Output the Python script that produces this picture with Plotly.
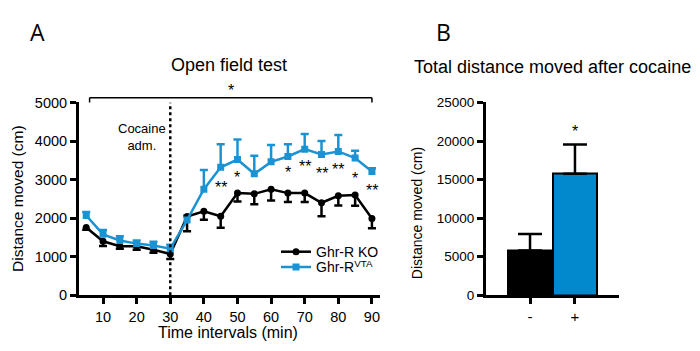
import plotly.graph_objects as go

# ---- Data ----
time_min = [5, 10, 15, 20, 25, 30, 35, 40, 45, 50, 55, 60, 65, 70, 75, 80, 85, 90]
ko_mean = [1760, 1400, 1270, 1270, 1180, 1070, 2040, 2180, 2050, 2650, 2630, 2750, 2650, 2650, 2400, 2580, 2600, 1990]
ko_sem = [60, 120, 60, 90, 80, 130, 380, 220, 300, 220, 270, 290, 230, 230, 350, 250, 280, 250]
vta_mean = [2070, 1580, 1420, 1340, 1290, 1210, 1950, 2750, 3320, 3520, 3150, 3460, 3600, 3790, 3650, 3730, 3560, 3210]
vta_sem = [90, 110, 110, 80, 100, 100, 120, 500, 600, 520, 470, 440, 320, 390, 350, 430, 190, 85]

star_x = [45, 50, 65, 70, 75, 80, 85, 90]
star_y = [2900, 3160, 3285, 3450, 3260, 3370, 3145, 2815]
star_txt = ["**", "*", "*", "**", "**", "**", "*", "**"]

bar_cats = ["-", "+"]
bar_vals = [5800, 15760]
bar_sem = [2160, 3800]

x_ticks_a = [10, 20, 30, 40, 50, 60, 70, 80, 90]
y_ticks_a = [0, 1000, 2000, 3000, 4000, 5000]
y_ticks_b = [0, 5000, 10000, 15000, 20000, 25000]

BLUE = "#1b93d3"
BAR_BLUE = "#0288cc"
FONT = "Liberation Sans, Arial, sans-serif"

W, H = 700, 351
def px(x):
    return x / W
def py(y):
    return 1 - y / H

CAP = 1.2  # half cap width in minutes

def err_segments(xs, ys, es, sign):
    sx, sy = [], []
    for x, y, e in zip(xs, ys, es):
        end = y + sign * e
        sx += [x, x, None, x - CAP, x + CAP, None]
        sy += [y, end, None, end, end, None]
    return sx, sy

fig = go.Figure()

# error bars (KO down, VTA up)
ex, ey = err_segments(time_min, ko_mean, ko_sem, -1)
fig.add_trace(go.Scatter(x=ex, y=ey, mode="lines", line=dict(color="black", width=2.5),
                         showlegend=False, hoverinfo="skip", xaxis="x", yaxis="y"))
ex, ey = err_segments(time_min, vta_mean, vta_sem, 1)
fig.add_trace(go.Scatter(x=ex, y=ey, mode="lines", line=dict(color=BLUE, width=2.5),
                         showlegend=False, hoverinfo="skip", xaxis="x", yaxis="y"))

fig.add_trace(go.Scatter(x=time_min, y=ko_mean, mode="lines+markers", name="Ghr-R KO",
                         line=dict(color="black", width=2.5),
                         marker=dict(symbol="circle", size=7, color="black"),
                         xaxis="x", yaxis="y", legend="legend"))
fig.add_trace(go.Scatter(x=time_min, y=vta_mean, mode="lines+markers", name="Ghr-R<sup>VTA</sup>",
                         line=dict(color=BLUE, width=2.5),
                         marker=dict(symbol="square", size=7, color=BLUE),
                         xaxis="x", yaxis="y", legend="legend2"))

# Panel B bars
fig.add_trace(go.Bar(x=bar_cats, y=bar_vals, width=1.0,
                     marker=dict(color=["black", BAR_BLUE], line=dict(color="black", width=2)),
                     error_y=dict(type="data", array=bar_sem, arrayminus=[0, 0], symmetric=False,
                                  color="black", thickness=2.5, width=12),
                     showlegend=False, xaxis="x2", yaxis="y2"))

ydom = [py(301), py(99)]
axis_common = dict(showline=True, linecolor="black", linewidth=3, ticks="outside",
                   ticklen=6, tickwidth=2.5, tickcolor="black", showgrid=False, zeroline=False)
leg_common = dict(xanchor="left", yanchor="top", bgcolor="rgba(0,0,0,0)",
                  font=dict(family=FONT, size=14, color="black"), itemwidth=30)

fig.update_layout(
    width=W, height=H, margin=dict(l=0, r=0, t=0, b=0),
    paper_bgcolor="white", plot_bgcolor="white",
    font=dict(family=FONT, color="black"),
    xaxis=dict(domain=[px(79), px(380)], range=[2.85, 92.4], tickvals=x_ticks_a, anchor="y",
               tickfont=dict(family=FONT, size=14.5, color="black"), **axis_common),
    yaxis=dict(domain=ydom, range=[0, 5000], tickvals=y_ticks_a, anchor="x", tickformat="d",
               tickfont=dict(family=FONT, size=14.5, color="black"), **axis_common),
    xaxis2=dict(domain=[px(486), px(619)], type="category", range=[-0.98, 1.98], anchor="y2",
                tickfont=dict(family=FONT, size=15, color="black"), **axis_common),
    yaxis2=dict(domain=ydom, range=[0, 25000], tickvals=y_ticks_b, anchor="x2", tickformat="d",
                tickfont=dict(family=FONT, size=13.5, color="black"), **axis_common),
    legend=dict(x=px(276), y=py(239), **leg_common),
    legend2=dict(x=px(276), y=py(255), **leg_common),
    bargap=0,
)

# dotted cocaine line
fig.add_shape(type="line", xref="x", yref="y", x0=30, x1=30, y0=0, y1=5000,
              line=dict(color="black", width=2.5, dash="dot"))

# bracket
yb = py(94)
yb2 = py(99)
for s in [dict(x0=6, x1=90, y0=yb, y1=yb), dict(x0=6, x1=6, y0=yb, y1=yb2), dict(x0=90, x1=90, y0=yb, y1=yb2)]:
    fig.add_shape(type="line", xref="x", yref="paper", line=dict(color="black", width=1.5), **s)

C = dict(showarrow=False, xanchor="center", yanchor="middle")
ann = []
ann.append(dict(x=48, y=py(86), xref="x", yref="paper", text="*", font=dict(size=16), **C))
for x, y, t in zip(star_x, star_y, star_txt):
    ann.append(dict(x=x, y=y, xref="x", yref="y", text=t, yshift=-4, font=dict(size=16), **C))
ann.append(dict(x=30, y=4100, xref="x", yref="y", text="Cocaine<br>adm.", showarrow=False,
                xanchor="right", yanchor="middle", xshift=-2, align="center", font=dict(size=13)))
ann.append(dict(x=bar_cats[1], y=21770, xref="x2", yref="y2", text="*", yshift=-4,
                font=dict(size=16), **C))
# titles and labels
ann.append(dict(x=px(229), y=py(60), xref="paper", yref="paper", text="Open field test",
                font=dict(size=18), **C))
ann.append(dict(x=px(552), y=py(62), xref="paper", yref="paper", text="Total distance moved after cocaine",
                font=dict(size=18), **C))
ann.append(dict(x=px(37.5), y=py(25), xref="paper", yref="paper", text="A",
                font=dict(size=23, family="Open Sans, sans-serif"), **C))
ann.append(dict(x=px(443), y=py(25), xref="paper", yref="paper", text="B",
                font=dict(size=23, family="Open Sans, sans-serif"), **C))
ann.append(dict(x=px(228), y=py(340), xref="paper", yref="paper", text="Time intervals (min)",
                font=dict(size=16), **C))
ann.append(dict(x=px(18), y=py(200), xref="paper", yref="paper", text="Distance moved (cm)",
                textangle=-90, font=dict(size=15.5), **C))
ann.append(dict(x=px(417), y=py(215), xref="paper", yref="paper", text="Distance moved (cm)",
                textangle=-90, font=dict(size=14), **C))
fig.update_layout(annotations=ann)

POST = (
    "document.documentElement.style.margin='0';"
    "document.documentElement.style.overflow='hidden';"
    "document.body.style.margin='0';"
    "document.body.style.overflow='hidden';"
    "var gd=document.getElementById('{plot_id}');"
    "gd.style.position='fixed';gd.style.left='0px';gd.style.top='0px';"
)
fig.write_html("out.html", config={"displayModeBar": False}, post_script=POST)
